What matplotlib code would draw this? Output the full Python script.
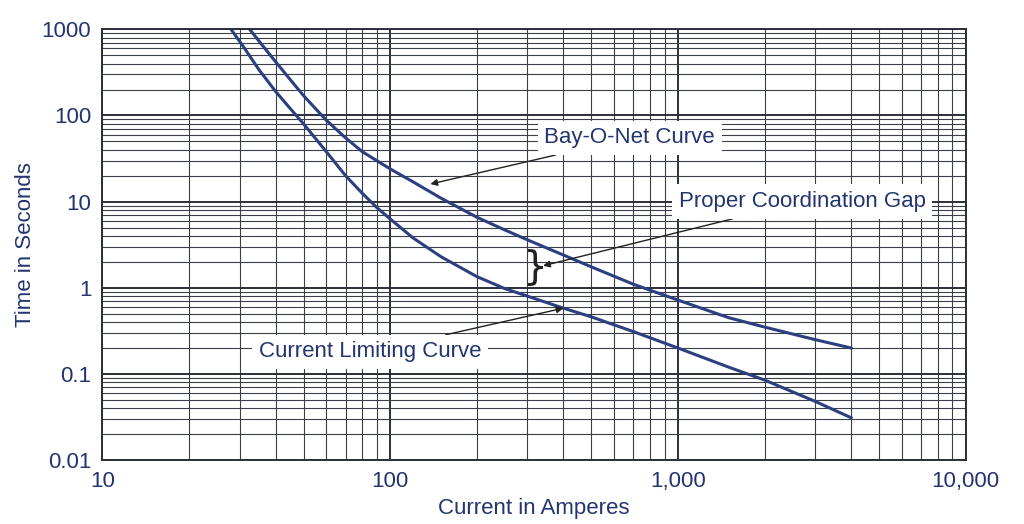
import numpy as np
import matplotlib.pyplot as plt
from matplotlib.ticker import FixedLocator, LogLocator, NullFormatter

bay_amps = [32.5, 36, 40, 45, 50, 60, 70, 80, 100, 120, 150, 200, 250, 300, 400, 500,
            700, 1000, 1500, 2000, 3000, 4000]
bay_secs = [1000, 650, 420, 260, 170, 88, 55, 38, 24, 17, 11, 6.6, 4.7, 3.6, 2.4, 1.75,
            1.1, 0.72, 0.45, 0.35, 0.25, 0.2]
cl_amps = [28, 31, 35, 40, 45, 50, 60, 70, 80, 90, 100, 120, 150, 200, 250, 300, 400,
           500, 700, 1000, 1500, 2000, 3000, 4000]
cl_secs = [1000, 620, 340, 190, 120, 80, 38, 20, 12.5, 8.5, 6.3, 3.8, 2.3, 1.35, 0.98,
           0.8, 0.58, 0.46, 0.31, 0.2, 0.12, 0.085, 0.048, 0.031]

xticks = [10, 100, 1000, 10000]
xlabels = ["10", "100", "1,000", "10,000"]
yticks = [0.01, 0.1, 1, 10, 100, 1000]
ylabels = ["0.01", "0.1", "1", "10", "100", "1000"]

navy = "#24346e"
line = "#2c3f80"

plt.rcParams["font.family"] = ["Liberation Sans", "DejaVu Sans"]
fig = plt.figure(figsize=(10.24, 5.24), dpi=100)
ax = fig.add_axes([0.100, 0.122, 0.843, 0.822])
ax.set_xscale("log")
ax.set_yscale("log")
ax.set_xlim(10, 10000)
ax.set_ylim(0.01, 1000)

ax.xaxis.set_major_locator(FixedLocator(xticks))
ax.yaxis.set_major_locator(FixedLocator(yticks))
ax.set_xticklabels(xlabels)
ax.set_yticklabels(ylabels)
ax.xaxis.set_minor_locator(LogLocator(base=10, subs=np.arange(2, 10)))
ax.yaxis.set_minor_locator(LogLocator(base=10, subs=np.arange(2, 10)))
ax.xaxis.set_minor_formatter(NullFormatter())
ax.yaxis.set_minor_formatter(NullFormatter())
ax.grid(True, which="major", color="#2a2f3a", lw=1.4)
ax.grid(True, which="minor", color="#3a3f48", lw=0.8)
ax.tick_params(which="both", length=0, labelsize=16, colors=navy, pad=8)
for s in ax.spines.values():
    s.set_color("#2a2f3a")
    s.set_linewidth(1.4)

ax.plot(bay_amps, bay_secs, color=line, lw=2.2)
ax.plot(cl_amps, cl_secs, color=line, lw=2.2)

ax.set_xlabel("Current in Amperes", fontsize=16, color=navy, labelpad=4)
ax.set_ylabel("Time in Seconds", fontsize=16, color=navy, labelpad=4)

box = dict(boxstyle="square,pad=0.3", fc="white", ec="none")
arrow = dict(arrowstyle="-|>", color="#222", lw=1, mutation_scale=10, shrinkA=0, shrinkB=0)
ax.annotate("Bay-O-Net Curve", xy=(138, 16), xytext=(680, 55), fontsize=16, color=navy,
            ha="center", va="center", bbox=box, arrowprops=arrow)
ax.annotate("Proper Coordination Gap", xy=(340, 1.8), xytext=(2700, 10), fontsize=16,
            color=navy, ha="center", va="center", bbox=box, arrowprops=arrow)
ax.annotate("Current Limiting Curve", xy=(400, 0.58), xytext=(85, 0.18), fontsize=16,
            color=navy, ha="center", va="center", bbox=box, arrowprops=arrow)
# brace for the gap
ax.text(318, 1.75, "}", fontsize=28, color="#222", ha="center", va="center",
        family="DejaVu Sans")

fig.savefig("out.png", dpi=100)
